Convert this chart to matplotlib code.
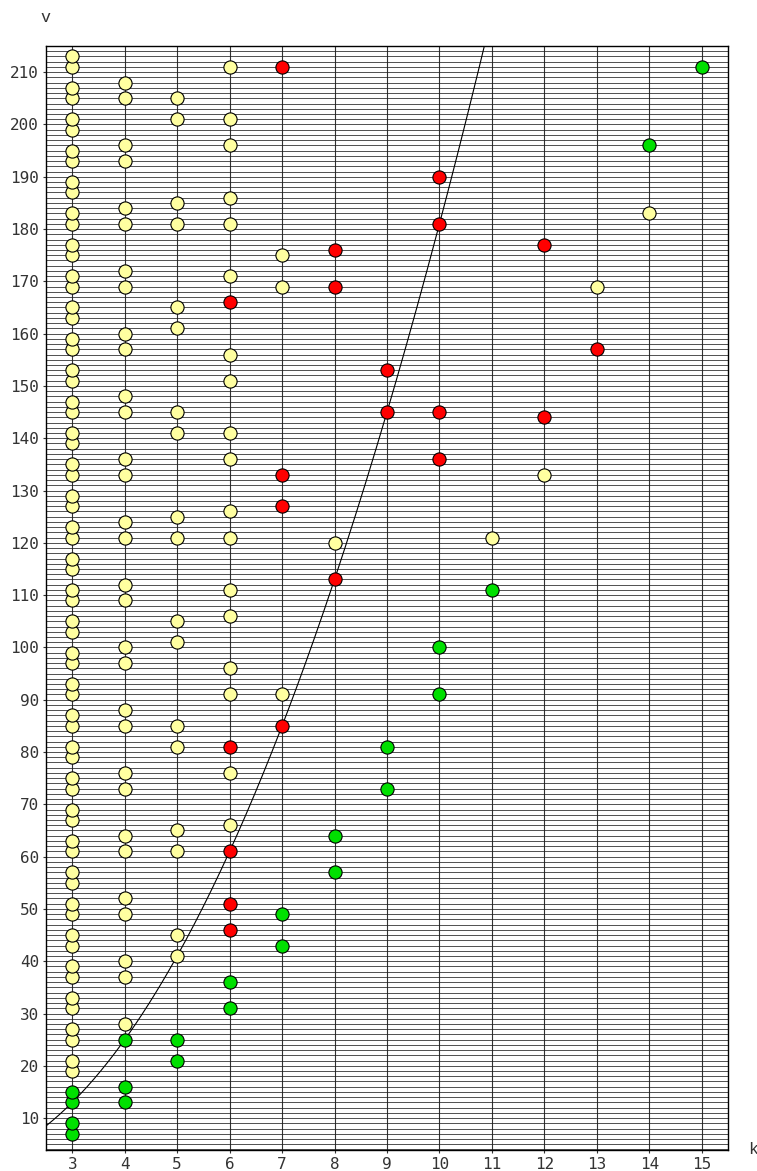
import numpy as np
import matplotlib
matplotlib.use("Agg")
import matplotlib.pyplot as plt

# known designs (green), open cases (red), other admissible values (yellow)
green_k = [3, 3, 3, 3, 4, 4, 4, 5, 5, 6, 6, 7, 7, 8, 8, 9, 9, 10, 10, 11, 14, 15]
green_v = [7, 9, 13, 15, 13, 16, 25, 21, 25, 31, 36, 43, 49, 57, 64, 73, 81, 91, 100, 111, 196, 211]

red_k = [6, 6, 6, 6, 6, 7, 7, 7, 7, 8, 8, 8, 9, 9, 10, 10, 10, 10, 12, 12, 13]
red_v = [46, 51, 61, 81, 166, 85, 127, 133, 211, 113, 169, 176, 145, 153, 136, 145, 181, 190, 144, 177, 157]

yellow_k3 = [19, 21, 25, 27, 31, 33, 37, 39, 43, 45, 49, 51, 55, 57, 61, 63, 67, 69, 73, 75,
             79, 81, 85, 87, 91, 93, 97, 99, 103, 105, 109, 111, 115, 117, 121, 123, 127,
             129, 133, 135, 139, 141, 145, 147, 151, 153, 157, 159, 163, 165, 169, 171,
             175, 177, 181, 183, 187, 189, 193, 195, 199, 201, 205, 207, 211, 213]
yellow_k4 = [28, 37, 40, 49, 52, 61, 64, 73, 76, 85, 88, 97, 100, 109, 112, 121, 124,
             133, 136, 145, 148, 157, 160, 169, 172, 181, 184, 193, 196, 205, 208]
yellow_k5 = [41, 45, 61, 65, 81, 85, 101, 105, 121, 125, 141, 145, 161, 165, 181, 185, 201, 205]
yellow_k6 = [66, 76, 91, 96, 106, 111, 121, 126, 136, 141, 151, 156, 171, 181, 186, 196, 201, 211]
yellow_k7 = [91, 169, 175]
yellow_k8 = [120]
yellow_k11 = [121]
yellow_k12 = [133]
yellow_k13 = [169]
yellow_k14 = [183]

yellow = {3: yellow_k3, 4: yellow_k4, 5: yellow_k5, 6: yellow_k6, 7: yellow_k7,
          8: yellow_k8, 11: yellow_k11, 12: yellow_k12, 13: yellow_k13, 14: yellow_k14}
yellow_k = [k for k, vs in yellow.items() for _ in vs]
yellow_v = [v for vs in yellow.values() for v in vs]

x_ticks = list(range(3, 16))
y_ticks = list(range(10, 211, 10))

fig = plt.figure(figsize=(7.57, 11.71), dpi=100)
ax = fig.add_axes([46 / 757, 21 / 1171, 682 / 757, 1104 / 1171])

xmin, xmax = 2.5, 15.5
ymin, ymax = 3.9, 215.0

# grid: every k, every v
for k in x_ticks:
    ax.axvline(k, color='#333333', lw=0.8, zorder=1)
for v in range(4, 216):
    ax.axhline(v, color='#222222', lw=0.55, zorder=1)

# bound v = k^2 + (k-1)^2
kk = np.linspace(xmin, xmax, 400)
ax.plot(kk, kk**2 + (kk - 1)**2, color='black', lw=0.8, zorder=2)

ms = 9.5
ax.plot(yellow_k, yellow_v, 'o', ms=ms, mfc='#ffffa0', mec='black', mew=0.8, zorder=3)
ax.plot(red_k, red_v, 'o', ms=ms, mfc='#ff0000', mec='black', mew=0.8, zorder=3)
ax.plot(green_k, green_v, 'o', ms=ms, mfc='#00e000', mec='black', mew=0.8, zorder=3)

ax.set_xlim(xmin, xmax)
ax.set_ylim(ymin, ymax)
ax.set_xticks(x_ticks)
ax.set_yticks(y_ticks)
ax.tick_params(length=2, width=0.8, colors='#333333', labelsize=11.5)
ax.tick_params(axis='x', pad=3)
ax.tick_params(axis='y', pad=3)
for lab in ax.get_xticklabels() + ax.get_yticklabels():
    lab.set_family('DejaVu Sans Mono')
for s in ax.spines.values():
    s.set_color('black')
    s.set_linewidth(1.0)

fig.text(45 / 757, 1 - 18 / 1171, 'v', family='Liberation Mono', fontsize=12,
         ha='center', va='center', color='#333333')
fig.text(753 / 757, 1 - 1150 / 1171, 'k', family='Liberation Mono', fontsize=12,
         ha='center', va='center', color='#333333')

fig.savefig('out.png', dpi=100)
